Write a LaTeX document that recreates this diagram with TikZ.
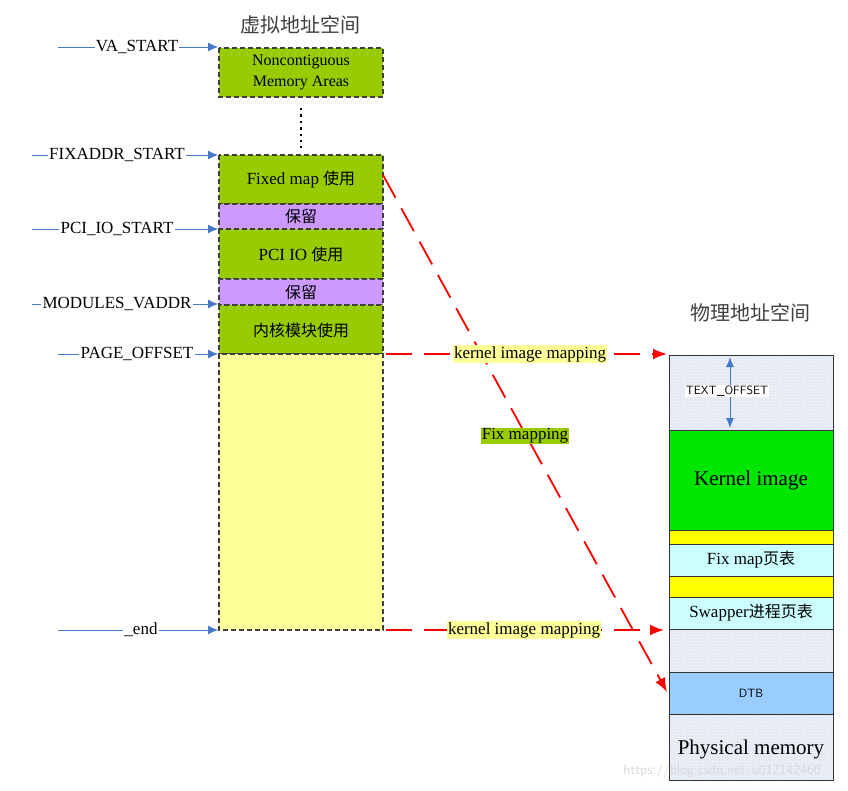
\documentclass[tikz,border=0pt]{standalone}
\usepackage{fontspec}
\setmainfont{Liberation Serif}
\newfontfamily\cjk{Noto Sans CJK SC}
\usetikzlibrary{arrows.meta,patterns}
\definecolor{vgreen}{RGB}{153,204,0}
\definecolor{vpurple}{RGB}{204,153,255}
\definecolor{vyellow}{RGB}{255,255,153}
\definecolor{kgreen}{RGB}{0,230,0}
\definecolor{pcyan}{RGB}{204,255,255}
\definecolor{pyel}{RGB}{255,255,0}
\definecolor{dtb}{RGB}{153,204,255}
\definecolor{hatch}{RGB}{226,232,244}
\definecolor{ablue}{RGB}{70,120,200}
\begin{document}
\begin{tikzpicture}[x=1pt,y=-1pt,
  vbox/.style={draw=black!75,dash pattern=on 5pt off 3pt,line width=1.4pt},
  pbox/.style={draw=black!80,line width=1pt},
  lab/.style={font=\fontsize{17}{20}\selectfont,inner sep=1pt},
  cjklab/.style={font=\cjk\fontsize{16}{19}\selectfont,inner sep=1pt},
  ptr/.style={ablue,-{Latex[length=10pt,width=9pt]},line width=0.8pt},
  redmap/.style={draw=red,dash pattern=on 26pt off 12pt,line width=1.8pt,-{Latex[length=14pt,width=11pt]}},
  tag/.style={font=\fontsize{17}{20}\selectfont,inner sep=1pt}]
\useasboundingbox (0,0) rectangle (848,790);
\fill[white] (0,0) rectangle (848,790);
\node[font=\cjk\fontsize{20}{22}\selectfont,text=black!75] (vt) at (300,25) {虚拟地址空间};
\node[font=\cjk\fontsize{20}{22}\selectfont,text=black!75] (pt) at (750,313) {物理地址空间};
% virtual blocks
\path[vbox,fill=vgreen] (219,48) rectangle (383,97);
\node[lab,align=center,font=\fontsize{16}{21}\selectfont] (nc) at (301,72) {Noncontiguous\\Memory Areas};
\draw[line width=2.4pt,dash pattern=on 2.4pt off 4pt] (301,108) -- (301,148);
\path[vbox,fill=vgreen] (219,155) rectangle (383,204);
\node[lab] (fm) at (301,180) {Fixed map {\cjk\fontsize{16}{19}\selectfont 使用}};
\path[vbox,fill=vpurple] (219,204) rectangle (383,229);
\node[cjklab] (r1) at (301,216) {保留};
\path[vbox,fill=vgreen] (219,229) rectangle (383,279);
\node[lab] (pci) at (301,254) {PCI IO {\cjk\fontsize{16}{19}\selectfont 使用}};
\path[vbox,fill=vpurple] (219,279) rectangle (383,305);
\node[cjklab] (r2) at (301,292) {保留};
\path[vbox,fill=vgreen] (219,305) rectangle (383,354);
\node[cjklab] (km) at (301,330) {内核模块使用};
\path[vbox,fill=vyellow] (219,354) rectangle (383,630);
% left pointers
\foreach \n/\t/\y/\xs/\xl in {a/VA\_START/47/58/137, b/FIXADDR\_START/155/32/117, c/PCI\_IO\_START/229/32/117, d/MODULES\_VADDR/304/32/117, e/PAGE\_OFFSET/354/58/137, f/\_end/630/58/141}{
  \node[lab] (L\n) at (\xl,\y) {\t};
  \coordinate (S\n) at (\xs,\y);
  \coordinate (E\n) at (218,\y);
  \draw[ablue,line width=0.8pt] (S\n) -- (L\n.west);
  \draw[ptr] (L\n.east) -- (E\n);
}
% physical
\path[pbox,fill=hatch] (669,355) rectangle (833,780);
\fill[pattern=crosshatch dots,pattern color=white] (669,355) rectangle (833,780);
\path[pbox,fill=kgreen] (669,430) rectangle (833,530);
\node[font=\fontsize{21}{24}\selectfont] (ki) at (751,480) {Kernel image};
\path[pbox,fill=pyel] (669,530) rectangle (833,544);
\path[pbox,fill=pcyan] (669,544) rectangle (833,576);
\node[lab] (fx) at (751,560) {Fix map{\cjk\fontsize{16}{19}\selectfont 页表}};
\path[pbox,fill=pyel] (669,576) rectangle (833,597);
\path[pbox,fill=pcyan] (669,597) rectangle (833,629);
\node[lab] (sw) at (751,613) {Swapper{\cjk\fontsize{16}{19}\selectfont 进程页表}};
\path[pbox,fill=dtb] (669,672) rectangle (833,714);
\node[font=\sffamily\fontsize{12}{14}\selectfont] (dtb) at (751,693) {DTB};
\node[font=\fontsize{21}{24}\selectfont] (pm) at (751,749) {Physical memory};
\path[pbox] (669,355) rectangle (833,780);
\coordinate (t1) at (730,357);
\coordinate (t2) at (730,428);
\node[fill=white,inner sep=1pt,font=\sffamily\fontsize{12}{14}\selectfont] (to) at (727,391) {TEXT\_OFFSET};
\draw[ablue,line width=1pt,{Latex[length=10pt,width=8pt]}-] (t1) -- (to.north -| t1);
\draw[ablue,line width=1pt,-{Latex[length=10pt,width=8pt]}] (to.south -| t1) -- (t2);
% red mappings
\coordinate (m1a) at (386,354); \coordinate (m1b) at (667,354);
\coordinate (m2a) at (386,630); \coordinate (m2b) at (664,630);
\coordinate (m3a) at (383,175); \coordinate (m3b) at (667,692);
\draw[redmap] (m1a) -- (m1b);
\draw[redmap] (m2a) -- (m2b);
\draw[redmap] (m3a) -- (m3b);
\node[tag,fill=vyellow] (k1) at (530,354) {kernel image mapping};
\node[tag,fill=vyellow] (k2) at (524,630) {kernel image mapping};
\node[tag,fill=vgreen] (fmap) at (525,436) {Fix mapping};
\node[text=black!15,font=\sffamily\fontsize{14}{16}\selectfont] (wm) at (722,771) {https://blog.csdn.net/u012142460};
\end{tikzpicture}
\end{document}
